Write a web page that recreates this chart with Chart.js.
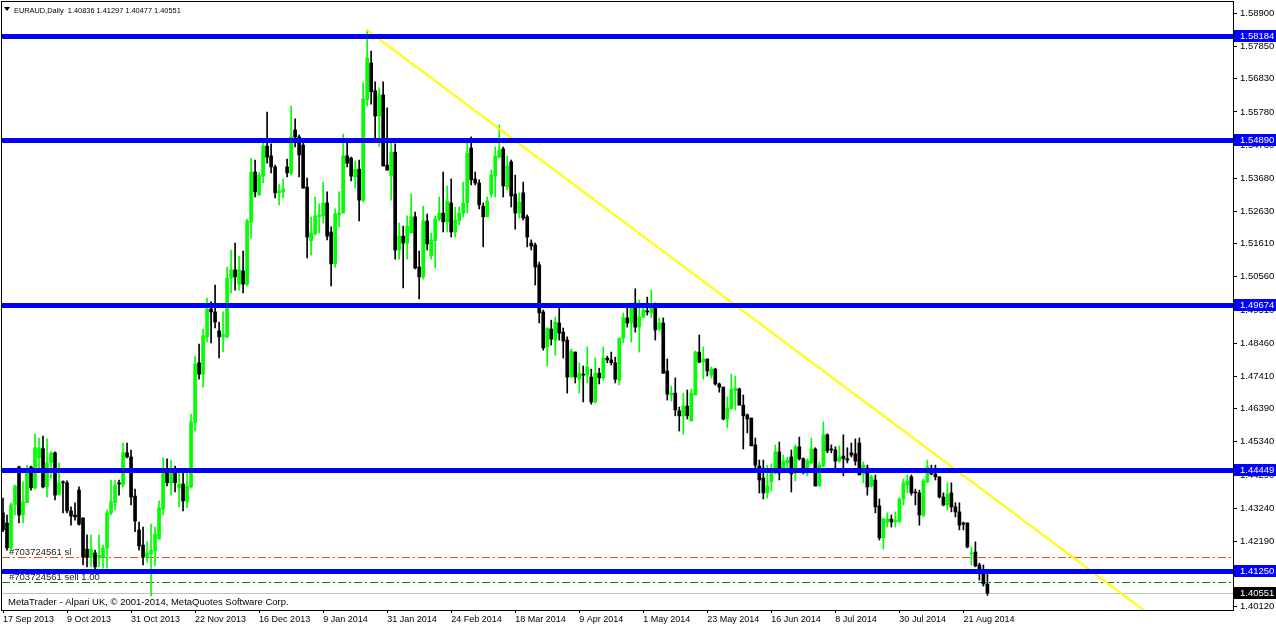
<!DOCTYPE html>
<html>
<head>
<meta charset="utf-8">
<title>EURAUD,Daily</title>
<script src="https://cdn.jsdelivr.net/npm/chart.js@4.4.1/dist/chart.umd.min.js"></script>
<style>
    html, body { margin: 0; padding: 0; background: #ffffff; }
    canvas { display: block; }
</style>
</head>
<body>
<canvas id="myChart" width="1276" height="628"></canvas>
<script>
// EURAUD daily bars, 17 Sep 2013 .. end of Aug 2014, one entry per trading day
const opens = [
    1.4309, 1.4277, 1.4198, 1.4334, 1.4454, 1.4302, 1.4341, 1.4454, 1.4388, 1.4483,
    1.4512, 1.4391, 1.4467, 1.4499, 1.4368, 1.4407, 1.4404, 1.4315, 1.4302, 1.4381,
    1.4293, 1.4194, 1.4169, 1.4182, 1.4169, 1.4169, 1.4198, 1.4309, 1.4341, 1.4404,
    1.4397, 1.4499, 1.4486, 1.4362, 1.4255, 1.4207, 1.4169, 1.4179, 1.4188, 1.4226,
    1.4321, 1.4442, 1.4404, 1.4435, 1.4388, 1.4400, 1.4344, 1.4391, 1.4594, 1.4784,
    1.4748, 1.4866, 1.4954, 1.4945, 1.4885, 1.4866, 1.4866, 1.5052, 1.5078, 1.5033,
    1.5075, 1.5033, 1.5230, 1.5388, 1.5315, 1.5375, 1.5470, 1.5439, 1.5404, 1.5322,
    1.5325, 1.5404, 1.5385, 1.5521, 1.5499, 1.5473, 1.5340, 1.5170, 1.5192, 1.5246,
    1.5249, 1.5290, 1.5198, 1.5097, 1.5252, 1.5258, 1.5439, 1.5432, 1.5372, 1.5397,
    1.5299, 1.5616, 1.5733, 1.5645, 1.5565, 1.5632, 1.5410, 1.5375, 1.5451, 1.5141,
    1.5185, 1.5163, 1.5195, 1.5246, 1.5087, 1.5056, 1.5233, 1.5122, 1.5170, 1.5239,
    1.5258, 1.5230, 1.5290, 1.5198, 1.5233, 1.5258, 1.5290, 1.5464, 1.5366, 1.5353,
    1.5280, 1.5246, 1.5318, 1.5375, 1.5435, 1.5461, 1.5340, 1.5420, 1.5318, 1.5258,
    1.5322, 1.5246, 1.5163, 1.5157, 1.5094, 1.4945, 1.4834, 1.4891, 1.4856, 1.4910,
    1.4881, 1.4856, 1.4739, 1.4818, 1.4732, 1.4748, 1.4745, 1.4739, 1.4660, 1.4751,
    1.4736, 1.4799, 1.4793, 1.4784, 1.4729, 1.4862, 1.4926, 1.4910, 1.4973, 1.4897,
    1.4929, 1.4948, 1.4942, 1.4958, 1.4891, 1.4910, 1.4758, 1.4682, 1.4688, 1.4632,
    1.4616, 1.4647, 1.4600, 1.4682, 1.4818, 1.4786, 1.4796, 1.4745, 1.4764, 1.4717,
    1.4707, 1.4606, 1.4638, 1.4695, 1.4701, 1.4650, 1.4619, 1.4609, 1.4524, 1.4457,
    1.4419, 1.4372, 1.4407, 1.4435, 1.4502, 1.4451, 1.4467, 1.4486, 1.4435, 1.4518,
    1.4480, 1.4435, 1.4467, 1.4511, 1.4394, 1.4457, 1.4556, 1.4511, 1.4508, 1.4473,
    1.4489, 1.4480, 1.4499, 1.4496, 1.4530, 1.4432, 1.4451, 1.4394, 1.4413, 1.4331,
    1.4230, 1.4280, 1.4289, 1.4280, 1.4280, 1.4353, 1.4397, 1.4423, 1.4375, 1.4372,
    1.4302, 1.4407, 1.4442, 1.4432, 1.4423, 1.4359, 1.4334, 1.4372, 1.4328, 1.4312,
    1.4277, 1.4277, 1.4179, 1.4185, 1.4144, 1.4119, 1.40836
];
const highs = [
    1.4356, 1.4302, 1.4341, 1.4397, 1.4457, 1.4407, 1.4460, 1.4457, 1.4558, 1.4546,
    1.4552, 1.4543, 1.4502, 1.4502, 1.4467, 1.4410, 1.4410, 1.4328, 1.4341, 1.4391,
    1.4293, 1.4239, 1.4239, 1.4191, 1.4239, 1.4207, 1.4318, 1.4413, 1.4413, 1.4413,
    1.4530, 1.4530, 1.4508, 1.4384, 1.4280, 1.4264, 1.4217, 1.4273, 1.4264, 1.4347,
    1.4483, 1.4480, 1.4476, 1.4457, 1.4435, 1.4435, 1.4435, 1.4622, 1.4805, 1.4843,
    1.4891, 1.4989, 1.4977, 1.5030, 1.4913, 1.4945, 1.5087, 1.5141, 1.5163, 1.5122,
    1.5138, 1.5239, 1.5432, 1.5426, 1.5385, 1.5480, 1.5578, 1.5477, 1.5410, 1.5350,
    1.5366, 1.5429, 1.5597, 1.5556, 1.5505, 1.5480, 1.5369, 1.5246, 1.5309, 1.5287,
    1.5356, 1.5325, 1.5214, 1.5271, 1.5325, 1.5508, 1.5480, 1.5435, 1.5423, 1.5426,
    1.5670, 1.5837, 1.5771, 1.5673, 1.5654, 1.5673, 1.5591, 1.5480, 1.5477, 1.5226,
    1.5217, 1.5249, 1.5318, 1.5261, 1.5138, 1.5280, 1.5255, 1.5195, 1.5249, 1.5309,
    1.5388, 1.5344, 1.5366, 1.5277, 1.5277, 1.5356, 1.5480, 1.5499, 1.5388, 1.5363,
    1.5290, 1.5309, 1.5394, 1.5467, 1.5537, 1.5467, 1.5439, 1.5426, 1.5378, 1.5322,
    1.5356, 1.5252, 1.5173, 1.5163, 1.5103, 1.4951, 1.4894, 1.4919, 1.4929, 1.4958,
    1.4894, 1.4866, 1.4828, 1.4818, 1.4784, 1.4774, 1.4834, 1.4764, 1.4799, 1.4767,
    1.4834, 1.4805, 1.4818, 1.4802, 1.4862, 1.4942, 1.4961, 1.4973, 1.5018, 1.4983,
    1.4967, 1.4992, 1.5014, 1.4973, 1.4926, 1.4926, 1.4796, 1.4710, 1.4736, 1.4644,
    1.4688, 1.4698, 1.4701, 1.4821, 1.4872, 1.4834, 1.4796, 1.4771, 1.4767, 1.4720,
    1.4707, 1.4676, 1.4748, 1.4742, 1.4704, 1.4682, 1.4622, 1.4609, 1.4546, 1.4476,
    1.4476, 1.4460, 1.4464, 1.4524, 1.4533, 1.4492, 1.4486, 1.4508, 1.4524, 1.4549,
    1.4483, 1.4480, 1.4546, 1.4515, 1.4470, 1.4597, 1.4559, 1.4524, 1.4518, 1.4521,
    1.4556, 1.4515, 1.4530, 1.4543, 1.4546, 1.4470, 1.4460, 1.4429, 1.4429, 1.4353,
    1.4293, 1.4309, 1.4302, 1.4312, 1.4356, 1.4416, 1.4429, 1.4429, 1.4384, 1.4381,
    1.4416, 1.4476, 1.4460, 1.4460, 1.4423, 1.4372, 1.4404, 1.4404, 1.4341, 1.4341,
    1.4280, 1.4277, 1.4201, 1.4217, 1.4150, 1.4144, 1.41297
];
const lows = [
    1.4249, 1.4191, 1.4191, 1.4302, 1.4277, 1.4277, 1.4341, 1.4381, 1.4384, 1.4445,
    1.4388, 1.4359, 1.4419, 1.4350, 1.4365, 1.4309, 1.4309, 1.4270, 1.4286, 1.4270,
    1.4144, 1.4138, 1.4138, 1.4131, 1.4138, 1.4134, 1.4134, 1.4302, 1.4318, 1.4365,
    1.4391, 1.4483, 1.4334, 1.4249, 1.4191, 1.4144, 1.4153, 1.4046, 1.4141, 1.4226,
    1.4302, 1.4394, 1.4365, 1.4375, 1.4328, 1.4315, 1.4325, 1.4388, 1.4568, 1.4732,
    1.4707, 1.4850, 1.4847, 1.4894, 1.4799, 1.4818, 1.4863, 1.5005, 1.5014, 1.5014,
    1.5005, 1.5027, 1.5179, 1.5309, 1.5315, 1.5353, 1.5416, 1.5385, 1.5306, 1.5284,
    1.5306, 1.5372, 1.5378, 1.5467, 1.5372, 1.5337, 1.5116, 1.5125, 1.5188, 1.5195,
    1.5226, 1.5173, 1.5027, 1.5087, 1.5214, 1.5258, 1.5404, 1.5360, 1.5337, 1.5233,
    1.5293, 1.5597, 1.5603, 1.5496, 1.5470, 1.5407, 1.5394, 1.5299, 1.5112, 1.5112,
    1.5021, 1.5112, 1.5195, 1.5081, 1.4986, 1.5049, 1.5141, 1.5112, 1.5084, 1.5233,
    1.5198, 1.5198, 1.5182, 1.5182, 1.5220, 1.5246, 1.5258, 1.5347, 1.5347, 1.5271,
    1.5151, 1.5246, 1.5309, 1.5309, 1.5432, 1.5309, 1.5331, 1.5277, 1.5207, 1.5242,
    1.5236, 1.5151, 1.5141, 1.5030, 1.4910, 1.4824, 1.4774, 1.4840, 1.4808, 1.4856,
    1.4799, 1.4688, 1.4739, 1.4720, 1.4688, 1.4660, 1.4720, 1.4653, 1.4656, 1.4717,
    1.4729, 1.4784, 1.4777, 1.4720, 1.4714, 1.4847, 1.4897, 1.4850, 1.4881, 1.4818,
    1.4926, 1.4935, 1.4926, 1.4856, 1.4885, 1.4751, 1.4666, 1.4663, 1.4616, 1.4568,
    1.4558, 1.4606, 1.4600, 1.4682, 1.4784, 1.4732, 1.4742, 1.4736, 1.4713, 1.4691,
    1.4603, 1.4578, 1.4638, 1.4635, 1.4650, 1.4511, 1.4562, 1.4521, 1.4451, 1.4372,
    1.4353, 1.4356, 1.4378, 1.4432, 1.4413, 1.4445, 1.4451, 1.4375, 1.4410, 1.4476,
    1.4432, 1.4426, 1.4464, 1.4394, 1.4394, 1.4454, 1.4499, 1.4499, 1.4445, 1.4470,
    1.4426, 1.4467, 1.4486, 1.4460, 1.4429, 1.4404, 1.4365, 1.4391, 1.4309, 1.4223,
    1.4194, 1.4264, 1.4264, 1.4264, 1.4280, 1.4334, 1.4372, 1.4365, 1.4334, 1.4270,
    1.4296, 1.4404, 1.4429, 1.4413, 1.4356, 1.4331, 1.4318, 1.4312, 1.4296, 1.4255,
    1.4255, 1.4198, 1.4144, 1.4138, 1.4096, 1.4077, 1.40477
];
const closes = [
    1.4255, 1.4198, 1.4334, 1.4394, 1.4302, 1.4344, 1.4445, 1.4388, 1.4515, 1.4515,
    1.4391, 1.4467, 1.4499, 1.4365, 1.4404, 1.4404, 1.4315, 1.4299, 1.4296, 1.4273,
    1.4169, 1.4169, 1.4194, 1.4138, 1.4175, 1.4198, 1.4309, 1.4344, 1.4397, 1.4400,
    1.4499, 1.4486, 1.4359, 1.4283, 1.4204, 1.4169, 1.4182, 1.4191, 1.4242, 1.4325,
    1.4448, 1.4404, 1.4438, 1.4404, 1.4400, 1.4347, 1.4394, 1.4597, 1.4780, 1.4748,
    1.4869, 1.4954, 1.4945, 1.4913, 1.4866, 1.4875, 1.5052, 1.5078, 1.5056, 1.5078,
    1.5033, 1.5233, 1.5388, 1.5325, 1.5378, 1.5470, 1.5435, 1.5404, 1.5322, 1.5328,
    1.5334, 1.5385, 1.5499, 1.5499, 1.5442, 1.5337, 1.5182, 1.5195, 1.5249, 1.5252,
    1.5290, 1.5185, 1.5097, 1.5255, 1.5258, 1.5439, 1.5416, 1.5375, 1.5397, 1.5299,
    1.5619, 1.5749, 1.5642, 1.5565, 1.5632, 1.5407, 1.5394, 1.5451, 1.5141, 1.5185,
    1.5163, 1.5217, 1.5246, 1.5084, 1.5056, 1.5233, 1.5160, 1.5173, 1.5239, 1.5258,
    1.5230, 1.5296, 1.5198, 1.5236, 1.5258, 1.5290, 1.5448, 1.5363, 1.5353, 1.5284,
    1.5246, 1.5296, 1.5378, 1.5439, 1.5458, 1.5344, 1.5407, 1.5312, 1.5258, 1.5293,
    1.5242, 1.5182, 1.5154, 1.5087, 1.4942, 1.4831, 1.4894, 1.4859, 1.4913, 1.4878,
    1.4853, 1.4739, 1.4821, 1.4739, 1.4751, 1.4745, 1.4771, 1.4660, 1.4751, 1.4736,
    1.4799, 1.4793, 1.4784, 1.4732, 1.4862, 1.4926, 1.4910, 1.4961, 1.4897, 1.4929,
    1.4951, 1.4945, 1.4961, 1.4888, 1.4910, 1.4751, 1.4685, 1.4688, 1.4635, 1.4616,
    1.4647, 1.4616, 1.4688, 1.4818, 1.4786, 1.4796, 1.4758, 1.4764, 1.4717, 1.4707,
    1.4606, 1.4641, 1.4701, 1.4704, 1.4650, 1.4616, 1.4606, 1.4521, 1.4460, 1.4413,
    1.4372, 1.4394, 1.4438, 1.4502, 1.4435, 1.4473, 1.4476, 1.4432, 1.4518, 1.4480,
    1.4451, 1.4473, 1.4511, 1.4394, 1.4460, 1.4556, 1.4505, 1.4508, 1.4473, 1.4486,
    1.4480, 1.4476, 1.4492, 1.4473, 1.4429, 1.4460, 1.4391, 1.4423, 1.4328, 1.4230,
    1.4289, 1.4289, 1.4280, 1.4286, 1.4353, 1.4404, 1.4410, 1.4372, 1.4372, 1.4302,
    1.4410, 1.4454, 1.4432, 1.4423, 1.4359, 1.4334, 1.4368, 1.4328, 1.4312, 1.4270,
    1.4273, 1.4201, 1.4182, 1.4141, 1.4122, 1.4084, 1.40551
];

// time scale labels, one every 16 bars
const dateLabels = [
    '17 Sep 2013', '9 Oct 2013', '31 Oct 2013', '22 Nov 2013', '16 Dec 2013', '9 Jan 2014',
    '31 Jan 2014', '24 Feb 2014', '18 Mar 2014', '9 Apr 2014', '1 May 2014', '23 May 2014',
    '16 Jun 2014', '8 Jul 2014', '30 Jul 2014', '21 Aug 2014'
];
const dateStep = 16;

// price scale as the terminal prints it
const priceTicks = [
    1.58900, 1.57850, 1.56830, 1.55780, 1.54730, 1.53680, 1.52630, 1.51610, 1.50560, 1.49510,
    1.48460, 1.47410, 1.46390, 1.45340, 1.44290, 1.43240, 1.42190, 1.41170, 1.40120
];

// horizontal levels drawn by hand (blue)
const levels = [1.58184, 1.54890, 1.49674, 1.44449, 1.41250];

// trend line from the January top, [bar, price]
const trendBars = [91, 285];
const trendPrices = [1.5837, 1.4001];

// order #703724561 : entry and stop loss, plus the current bid
const orderTicket = '#703724561';
const orderPrice = 1.4089;
const stopPrice = 1.4170;
const bidPrice = 1.40551;

const fontFamily = '"Liberation Sans", "DejaVu Sans", sans-serif';
const upColor = '#00ff00';
const downColor = '#000000';

const last = closes.length - 1;
const fmt = v => v.toFixed(5);

const barIndex = closes.map((c, i) => i);
const candleColors = barIndex.map(i => closes[i] > opens[i] ? upColor : downColor);

function hLine(chart, value, color, width, dash)
{
    const ctx = chart.ctx;
    const area = chart.chartArea;
    const y = Math.round(chart.scales.y.getPixelForValue(value)) + (width % 2 ? 0.5 : 0);
    ctx.save();
    ctx.strokeStyle = color;
    ctx.lineWidth = width;
    ctx.setLineDash(dash || []);
    ctx.beginPath();
    ctx.moveTo(area.left, y);
    ctx.lineTo(area.right, y);
    ctx.stroke();
    ctx.restore();
}

function priceBox(chart, value, bg)
{
    const ctx = chart.ctx;
    const area = chart.chartArea;
    const y = Math.round(chart.scales.y.getPixelForValue(value));
    ctx.save();
    ctx.fillStyle = bg;
    ctx.fillRect(area.right + 1, y - 6, chart.width - area.right - 1, 12);
    ctx.fillStyle = '#ffffff';
    ctx.font = `9.5px ${fontFamily}`;
    ctx.textBaseline = 'middle';
    ctx.fillText(fmt(value), area.right + 7, y + 0.5);
    ctx.restore();
}

const terminalLook = {
    id: 'terminalLook',
    beforeDatasetsDraw(chart) {
        const ctx = chart.ctx;
        hLine(chart, bidPrice, '#c0c0c0', 1);
        hLine(chart, stopPrice, '#ff4500', 1, [8, 3, 2, 3]);
        hLine(chart, orderPrice, '#008000', 1, [8, 3, 2, 3]);

        const y = chart.scales.y;
        ctx.save();
        ctx.fillStyle = '#202020';
        ctx.font = `9.5px ${fontFamily}`;
        ctx.textBaseline = 'alphabetic';
        ctx.fillText(`${orderTicket} sl`, 9, Math.round(y.getPixelForValue(stopPrice)) - 2);
        ctx.fillText(`${orderTicket} sell 1.00`, 9, Math.round(y.getPixelForValue(orderPrice)) - 2);
        ctx.restore();
    },
    afterDatasetsDraw(chart) {
        levels.forEach(v => hLine(chart, v, '#0000ff', 5));
    },
    afterDraw(chart) {
        const ctx = chart.ctx;
        const area = chart.chartArea;

        ctx.save();
        ctx.strokeStyle = '#000000';
        ctx.lineWidth = 1;
        ctx.strokeRect(area.left - 0.5, area.top - 0.5, area.right - area.left + 1, area.bottom - area.top + 1);
        ctx.restore();

        levels.forEach(v => priceBox(chart, v, '#0000ff'));
        priceBox(chart, bidPrice, '#000000');

        // symbol line in the top left corner
        ctx.save();
        ctx.fillStyle = '#000000';
        ctx.beginPath();
        ctx.moveTo(4, 7);
        ctx.lineTo(10, 7);
        ctx.lineTo(7, 11);
        ctx.closePath();
        ctx.fill();
        ctx.font = `7.4px ${fontFamily}`;
        ctx.fillText(`EURAUD,Daily  ${fmt(opens[last])} ${fmt(highs[last])} ${fmt(lows[last])} ${fmt(closes[last])}`, 14, 13);
        ctx.font = `9.5px ${fontFamily}`;
        ctx.fillText('MetaTrader - Alpari UK, \u00a9 2001-2014, MetaQuotes Software Corp.', 8, 605);
        ctx.restore();
    }
};

const ctx = document.getElementById('myChart');

new Chart(ctx, {
    type: 'bar',
    data: {
        datasets: [
            {
                label: 'wicks',
                data: barIndex.map(i => ({ x: i, y: [lows[i], highs[i]] })),
                backgroundColor: candleColors,
                barThickness: 1,
                minBarLength: 1,
                grouped: false,
                order: 3
            },
            {
                label: 'bodies',
                data: barIndex.map(i => ({ x: i, y: [opens[i], closes[i]] })),
                backgroundColor: candleColors,
                barThickness: 3,
                minBarLength: 1,
                grouped: false,
                order: 2
            },
            {
                type: 'line',
                label: 'trend',
                data: trendBars.map((b, k) => ({ x: b, y: trendPrices[k] })),
                borderColor: '#ffff00',
                borderWidth: 2,
                pointRadius: 0,
                order: 1
            }
        ]
    },
    options: {
        responsive: false,
        animation: false,
        devicePixelRatio: 1,
        layout: { padding: { left: 2, top: 2, right: 0, bottom: 0 } },
        plugins: {
            legend: { display: false },
            tooltip: { enabled: false }
        },
        scales: {
            x: {
                type: 'linear',
                min: -0.25,
                max: 307.375,
                offset: false,
                afterBuildTicks: scale => {
                    scale.ticks = dateLabels.map((d, k) => ({ value: k * dateStep }));
                },
                afterFit: scale => {
                    scale.height = 18;
                    scale.paddingLeft = 0;
                    scale.paddingRight = 0;
                },
                ticks: {
                    autoSkip: false,
                    maxRotation: 0,
                    align: 'start',
                    padding: 1,
                    color: '#000000',
                    font: { family: fontFamily, size: 9 },
                    callback: v => dateLabels[Math.round(v / dateStep)]
                },
                grid: { offset: false, drawOnChartArea: false, drawTicks: true, tickLength: 3, color: '#000000' },
                border: { display: true, color: '#000000' }
            },
            y: {
                position: 'right',
                min: 1.40014,
                max: 1.59261,
                afterBuildTicks: scale => {
                    scale.ticks = priceTicks.map(v => ({ value: v }));
                },
                afterFit: scale => {
                    scale.width = 43;
                    // labels may hang over the plot edges, like in the terminal
                    scale.paddingTop = 0;
                    scale.paddingBottom = 0;
                },
                ticks: {
                    autoSkip: false,
                    padding: 3,
                    color: '#000000',
                    font: { family: fontFamily, size: 9.5 },
                    callback: v => fmt(v)
                },
                grid: { drawOnChartArea: false, drawTicks: true, tickLength: 4, color: '#000000' },
                border: { display: true, color: '#000000' }
            }
        }
    },
    plugins: [terminalLook]
});
</script>
</body>
</html>
